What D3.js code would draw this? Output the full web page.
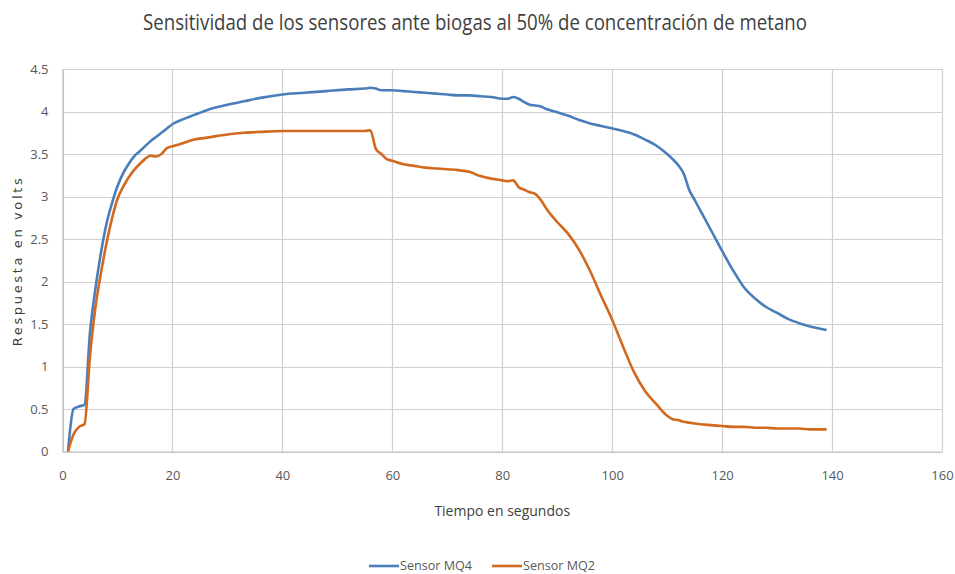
<!DOCTYPE html>
<html>
<head>
<meta charset="utf-8">
<script src="https://cdn.jsdelivr.net/npm/d3@7/dist/d3.min.js"></script>
<style>
  html, body { margin: 0; padding: 0; background: #fff; }
  svg text { font-family: "Open Sans", sans-serif; }
</style>
</head>
<body>
<svg id="chart" width="955" height="574"></svg>
<script>
// Time in seconds
const tiempo = [1,2,3,4,5,6,7,8,9,10,11,12,13,14,15,16,17,18,19,20,22,24,26,28,30,33,36,40,44,48,52,55,56,57,58,59,60,62,64,66,68,70,72,74,76,78,80,81,82,83,84,85,86,87,88,90,92,94,96,98,100,102,104,106,108,110,111,112,113,114,115,116,118,120,122,124,126,128,130,132,134,136,139];

// Sensor response in volts
const sensorMQ4 = [0,0.50,0.53,0.55,1.40,1.92,2.34,2.68,2.92,3.12,3.27,3.38,3.47,3.53,3.59,3.65,3.70,3.75,3.80,3.85,3.91,3.96,4.01,4.05,4.08,4.12,4.16,4.20,4.22,4.24,4.26,4.27,4.28,4.27,4.25,4.25,4.25,4.24,4.23,4.22,4.21,4.20,4.19,4.19,4.18,4.17,4.15,4.15,4.17,4.15,4.11,4.08,4.07,4.06,4.03,3.99,3.95,3.90,3.86,3.83,3.80,3.77,3.73,3.67,3.60,3.50,3.44,3.37,3.27,3.08,2.96,2.84,2.60,2.36,2.13,1.93,1.80,1.70,1.63,1.56,1.51,1.47,1.43];

const sensorMQ2 = [0,0.20,0.29,0.32,1.12,1.70,2.10,2.45,2.74,2.97,3.11,3.22,3.31,3.38,3.44,3.48,3.47,3.50,3.57,3.59,3.63,3.67,3.69,3.71,3.73,3.75,3.76,3.77,3.77,3.77,3.77,3.77,3.78,3.56,3.50,3.44,3.42,3.38,3.36,3.34,3.33,3.32,3.31,3.29,3.24,3.21,3.19,3.18,3.19,3.11,3.08,3.05,3.03,2.96,2.86,2.70,2.56,2.37,2.12,1.83,1.55,1.23,0.93,0.71,0.56,0.42,0.38,0.37,0.35,0.34,0.33,0.32,0.31,0.30,0.29,0.29,0.28,0.28,0.27,0.27,0.27,0.26,0.26];

const xTicks = [0,20,40,60,80,100,120,140,160];
const yTicks = [0,0.5,1,1.5,2,2.5,3,3.5,4,4.5];

const series = [
  { name: "Sensor MQ4", values: sensorMQ4, color: "#4a7ebb" },
  { name: "Sensor MQ2", values: sensorMQ2, color: "#d2691e" }
];

const svg = d3.select("#chart");
const plot = { left: 62.5, right: 942, top: 69, bottom: 451.5 };

const x = d3.scaleLinear().domain([0, 160]).range([plot.left, plot.right]);
const y = d3.scaleLinear().domain([0, 4.5]).range([plot.bottom, plot.top]);

// Title (condensed to narrow proportions)
svg.append("text")
  .attr("x", 475).attr("y", 30)
  .attr("text-anchor", "middle")
  .attr("font-size", 21)
  .attr("fill", "#404040")
  .attr("textLength", 664)
  .attr("lengthAdjust", "spacingAndGlyphs")
  .text("Sensitividad de los sensores ante biogas al 50% de concentración de metano");

// Gridlines
const grid = svg.append("g");
grid.selectAll("line.h").data(yTicks).join("line")
  .attr("x1", plot.left).attr("x2", plot.right)
  .attr("y1", d => Math.round(y(d)) + 0.5).attr("y2", d => Math.round(y(d)) + 0.5)
  .attr("stroke", "#d0d0d0").attr("stroke-width", 1.2);
grid.selectAll("line.v").data(xTicks).join("line")
  .attr("y1", plot.top).attr("y2", plot.bottom)
  .attr("x1", d => Math.round(x(d)) + 0.5).attr("x2", d => Math.round(x(d)) + 0.5)
  .attr("stroke", "#d0d0d0").attr("stroke-width", 1.2);

// Axes
const xAxis = d3.axisBottom(x).tickValues(xTicks).tickSize(0).tickPadding(19);
const yAxis = d3.axisLeft(y).tickValues(yTicks).tickSize(0).tickPadding(14)
  .tickFormat(d => String(d));

const gx = svg.append("g").attr("transform", `translate(0,${plot.bottom})`).call(xAxis);
const gy = svg.append("g").attr("transform", `translate(${plot.left},0)`).call(yAxis);
[gx, gy].forEach(g => {
  g.select(".domain").attr("stroke", "#bfbfbf").attr("stroke-width", 1.2);
  g.selectAll("text").attr("font-size", 13).attr("fill", "#595959")
    .style("font-family", '"Open Sans", sans-serif');
});

// Axis titles
svg.append("text")
  .attr("x", (plot.left + plot.right) / 2).attr("y", 516)
  .attr("text-anchor", "middle").attr("font-size", 14).attr("fill", "#404040")
  .text("Tiempo en segundos");

svg.append("text")
  .attr("transform", `translate(22,${(plot.top + plot.bottom) / 2 + 2}) rotate(-90)`)
  .attr("text-anchor", "middle").attr("fill", "#404040")
  .style("font-family", '"DejaVu Sans", sans-serif')
  .style("font-size", "13px")
  .attr("textLength", 168)
  .attr("lengthAdjust", "spacing")
  .text("Respuesta en volts");

// Lines
const line = d3.line()
  .x((d, i) => x(tiempo[i]))
  .y(d => y(d))
  .curve(d3.curveMonotoneX);

svg.append("g").selectAll("path").data(series).join("path")
  .attr("d", s => line(s.values))
  .attr("fill", "none")
  .attr("stroke", s => s.color)
  .attr("stroke-width", 2.6)
  .attr("stroke-linejoin", "round");

// Legend
const legend = svg.append("g").attr("transform", "translate(369,570)");
const items = legend.selectAll("g").data(series).join("g")
  .attr("transform", (d, i) => `translate(${i * 123},0)`);
items.append("line")
  .attr("x1", 0).attr("x2", 30).attr("y1", -4).attr("y2", -4)
  .attr("stroke", d => d.color).attr("stroke-width", 2.6);
items.append("text")
  .attr("x", 31).attr("y", 0)
  .attr("font-size", 13).attr("fill", "#595959")
  .attr("textLength", 72)
  .attr("lengthAdjust", "spacingAndGlyphs")
  .text(d => d.name);
</script>
</body>
</html>
